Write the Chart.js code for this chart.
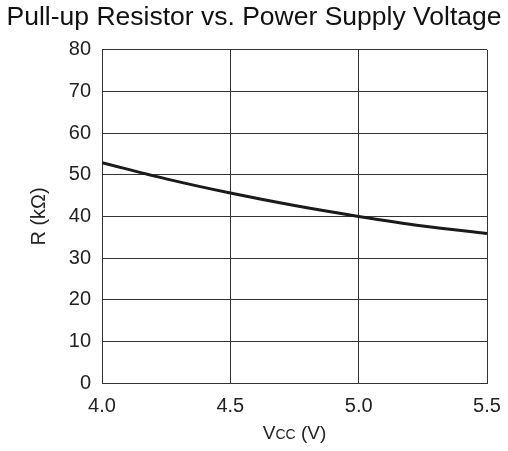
<!DOCTYPE html>
<html>
<head>
<meta charset="utf-8">
<script src="https://cdn.jsdelivr.net/npm/chart.js@4"></script>
<style>
  html, body { margin: 0; padding: 0; background: #fff; }
  #wrap { width: 508px; height: 451px; }
</style>
</head>
<body>
<div id="wrap"><canvas id="grafico"></canvas></div>
<script>
// datos
const voltajes = [4.0, 4.25, 4.5, 4.75, 5.0, 5.25, 5.5];
const resistencias = [52.9, 49.0, 45.6, 42.6, 40.0, 37.7, 35.9];
const ticksY = [0, 10, 20, 30, 40, 50, 60, 70, 80];
const ticksX = [4.0, 4.5, 5.0, 5.5];

const fuente = "'Liberation Sans', Arial, Helvetica, sans-serif";

// titulo del eje x con "CC" en subindice pequeño
const tituloX = {
    id: 'tituloX',
    afterDraw(chart) {
        const c = chart.ctx;
        const area = chart.chartArea;
        const partes = [['V', 19], ['CC', 14], [' (V)', 19]];
        c.save();
        c.fillStyle = '#222';
        c.textBaseline = 'alphabetic';
        c.textAlign = 'left';
        let ancho = 0;
        partes.forEach(p => { c.font = p[1] + 'px ' + fuente; ancho += c.measureText(p[0]).width; });
        let x = (area.left + area.right) / 2 - ancho / 2;
        partes.forEach(p => {
            c.font = p[1] + 'px ' + fuente;
            c.fillText(p[0], x, 439);
            x += c.measureText(p[0]).width;
        });
        c.restore();
    }
};

const ctx = document.getElementById('grafico').getContext('2d');
const miGrafico = new Chart(ctx, {
    type: 'line',
    data: {
        datasets: [{
            data: voltajes.map((v, i) => ({ x: v, y: resistencias[i] })),
            borderColor: '#1a1a1a',
            borderWidth: 3,
            pointRadius: 0,
            cubicInterpolationMode: 'monotone',
            fill: false
        }]
    },
    options: {
        responsive: true,
        maintainAspectRatio: false,
        animation: false,
        layout: { padding: 0 },
        plugins: {
            legend: { display: false },
            tooltip: { enabled: false },
            title: {
                display: true,
                text: 'Pull-up Resistor vs. Power Supply Voltage',
                color: '#111',
                font: { family: fuente, size: 26.5, weight: 'normal' },
                padding: { top: 2, bottom: 16 }
            }
        },
        scales: {
            x: {
                type: 'linear',
                min: 4.0,
                max: 5.5,
                afterBuildTicks: s => { s.ticks = ticksX.map(v => ({ value: v })); },
                afterFit: s => { s.height = 68; s.paddingLeft = 0; s.paddingRight = 21; },
                grid: { color: '#333', lineWidth: 1, drawTicks: false },
                border: { color: '#333', width: 1 },
                ticks: {
                    color: '#222',
                    padding: 11,
                    maxRotation: 0,
                    font: { family: fuente, size: 20 },
                    callback: v => Number(v).toFixed(1)
                },
                title: { display: false, text: 'VCC (V)' }
            },
            y: {
                min: 0,
                max: 80,
                afterBuildTicks: s => { s.ticks = ticksY.map(v => ({ value: v })); },
                afterFit: s => { s.width = 102; s.paddingTop = 0; s.paddingBottom = 0; },
                grid: { color: '#333', lineWidth: 1, drawTicks: false },
                border: { color: '#333', width: 1 },
                ticks: {
                    color: '#222',
                    padding: 11,
                    font: { family: fuente, size: 20 }
                },
                title: {
                    display: true,
                    text: 'R (kΩ)',
                    color: '#222',
                    font: { family: fuente, size: 20 },
                    padding: { top: 27, bottom: 0 }
                }
            }
        }
    },
    plugins: [tituloX]
});
</script>
</body>
</html>
